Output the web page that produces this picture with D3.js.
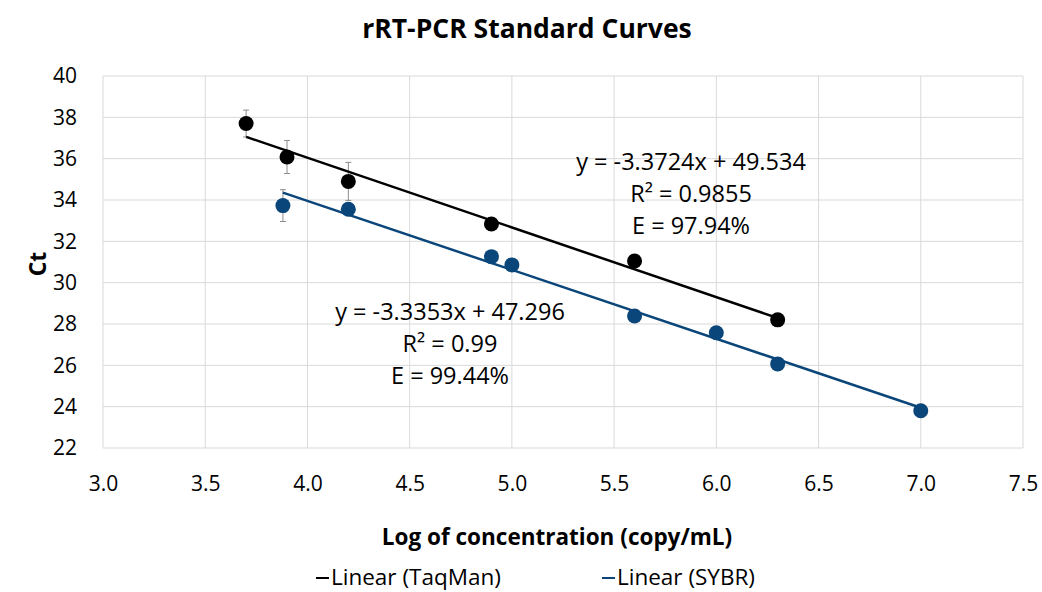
<!DOCTYPE html>
<html><head><meta charset="utf-8">
<script src="https://cdn.jsdelivr.net/npm/d3@7"></script>
<style>body{margin:0;background:#fff}svg{display:block}text{font-family:"Open Sans",sans-serif;fill:#000}</style>
</head><body><svg id="c" width="1042" height="592"></svg>
<script>
const taqX = [3.7, 3.9, 4.2, 4.9, 5.6, 6.3];
const taqY = [37.7, 36.08, 34.9, 32.84, 31.05, 28.2];
const taqErr = [0.65, 0.8, 0.92, 0, 0, 0];
const sybrX = [3.88, 4.2, 4.9, 5.0, 5.6, 6.0, 6.3, 7.0];
const sybrY = [33.73, 33.55, 31.26, 30.86, 28.39, 27.58, 26.07, 23.8];
const sybrErr = [0.77, 0, 0, 0, 0, 0, 0, 0];
const fitSlope = [-3.3724, -3.3353];
const fitIntercept = [49.534, 47.296];
const fitLabels = [["y = -3.3724x + 49.534", "R² = 0.9855", "E = 97.94%"],
                   ["y = -3.3353x + 47.296", "R² = 0.99", "E = 99.44%"]];
const xTicks = [3.0, 3.5, 4.0, 4.5, 5.0, 5.5, 6.0, 6.5, 7.0, 7.5];
const yTicks = [22, 24, 26, 28, 30, 32, 34, 36, 38, 40];
const legendLabels = ["Linear (TaqMan)", "Linear (SYBR)"];
const colors = ["#000000", "#0a4679"];

const svg = d3.select("#c");
const L = 103, R = 1023, T = 76, B = 448;
const x = d3.scaleLinear().domain([3, 7.5]).range([L, R]);
const y = d3.scaleLinear().domain([22, 40]).range([B, T]);

// grid
svg.append("g").selectAll("line").data(xTicks).join("line")
  .attr("x1", d => x(d)).attr("x2", d => x(d)).attr("y1", T).attr("y2", B)
  .attr("stroke", "#d9d9d9").attr("stroke-width", 1);
svg.append("g").selectAll("line").data(yTicks).join("line")
  .attr("x1", L).attr("x2", R).attr("y1", d => y(d)).attr("y2", d => y(d))
  .attr("stroke", "#d9d9d9").attr("stroke-width", 1);

// axes (labels only)
const xa = svg.append("g").attr("transform", `translate(0,${B})`)
  .call(d3.axisBottom(x).tickValues(xTicks).tickFormat(d3.format(".1f")).tickSize(0).tickPadding(28));
xa.select(".domain").remove();
xa.selectAll("text").style("font-size", "21px").style("font-family", "Open Sans");
const ya = svg.append("g").attr("transform", `translate(${L},0)`)
  .call(d3.axisLeft(y).tickValues(yTicks).tickFormat(d3.format("d")).tickSize(0).tickPadding(26));
ya.select(".domain").remove();
ya.selectAll("text").style("font-size", "21px").style("font-family", "Open Sans");

// titles
svg.append("text").attr("x", 527).attr("y", 38).attr("text-anchor", "middle")
  .style("font-size", "26.5px").style("font-weight", "bold").text("rRT-PCR Standard Curves");
svg.append("text").attr("x", 557).attr("y", 545).attr("text-anchor", "middle")
  .style("font-size", "22.5px").style("font-weight", "bold").text("Log of concentration (copy/mL)");
svg.append("text").attr("transform", "translate(46,264) rotate(-90)").attr("text-anchor", "middle")
  .style("font-size", "23px").style("font-weight", "bold").text("Ct");

const series = [
  {xs: taqX, ys: taqY, err: taqErr},
  {xs: sybrX, ys: sybrY, err: sybrErr}
];

series.forEach((s, i) => {
  const pts = s.xs.map((v, j) => ({x: v, y: s.ys[j], e: s.err[j]}));
  const g = svg.append("g");
  const eb = pts.filter(p => p.e > 0);
  g.selectAll("line.e").data(eb).join("line")
    .attr("x1", p => x(p.x)).attr("x2", p => x(p.x))
    .attr("y1", p => y(p.y + p.e)).attr("y2", p => y(p.y - p.e))
    .attr("stroke", "#8c8c8c").attr("stroke-width", 1);
  ["+", "-"].forEach(sg => {
    g.selectAll("line.c" + (sg === "+" ? "t" : "b")).data(eb).join("line")
      .attr("x1", p => x(p.x) - 3).attr("x2", p => x(p.x) + 3)
      .attr("y1", p => y(sg === "+" ? p.y + p.e : p.y - p.e))
      .attr("y2", p => y(sg === "+" ? p.y + p.e : p.y - p.e))
      .attr("stroke", "#8c8c8c").attr("stroke-width", 1);
  });
  g.selectAll("circle").data(pts).join("circle")
    .attr("cx", p => x(p.x)).attr("cy", p => y(p.y)).attr("r", 7.5)
    .attr("fill", colors[i]);
});

// trend lines
series.forEach((s, i) => {
  const x0 = d3.min(s.xs), x1 = d3.max(s.xs);
  const f = v => fitSlope[i] * v + fitIntercept[i];
  svg.append("line").attr("x1", x(x0)).attr("y1", y(f(x0)))
    .attr("x2", x(x1)).attr("y2", y(f(x1)))
    .attr("stroke", colors[i]).attr("stroke-width", 2.5);
});

// fit labels
const labelPos = [[691, 170], [450, 320]];
fitLabels.forEach((lines, i) => {
  lines.forEach((t, k) => {
    svg.append("text").attr("x", labelPos[i][0]).attr("y", labelPos[i][1] + k * 32)
      .attr("text-anchor", "middle").style("font-size", "23.5px").text(t);
  });
});

// legend
const legX = [316, 602];
legendLabels.forEach((t, i) => {
  svg.append("line").attr("x1", legX[i]).attr("x2", legX[i] + 13)
    .attr("y1", 578).attr("y2", 578).attr("stroke", colors[i]).attr("stroke-width", 2);
  svg.append("text").attr("x", legX[i] + 15).attr("y", 585)
    .style("font-size", "22.5px").text(t);
});
</script></body></html>
